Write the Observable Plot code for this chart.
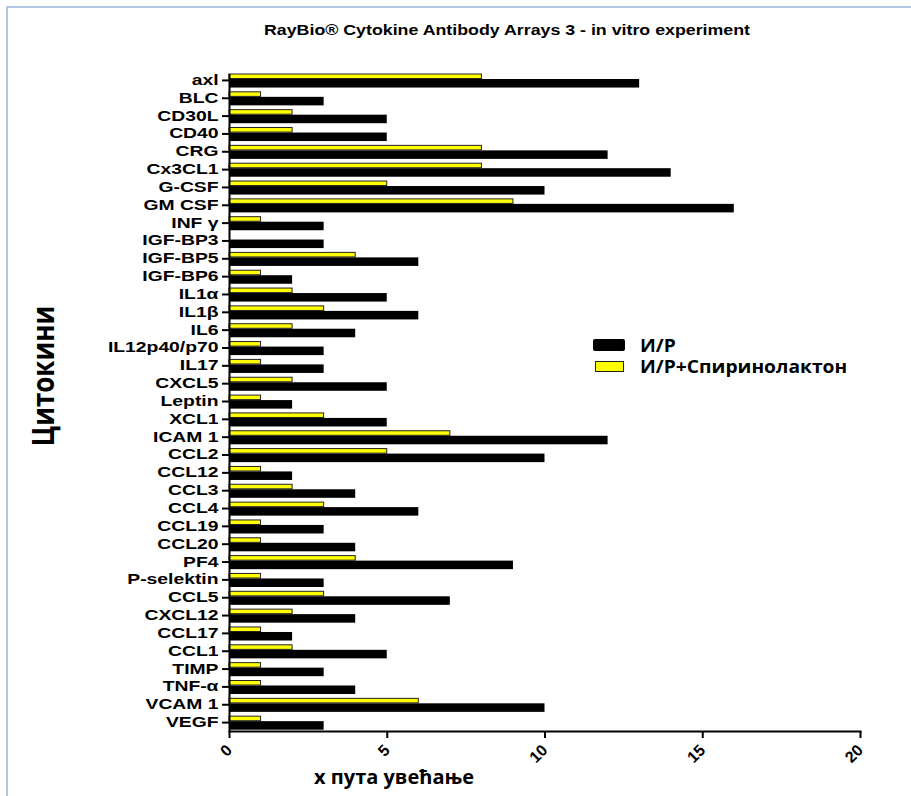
<!DOCTYPE html>
<html>
<head>
<meta charset="utf-8">
<script src="https://cdn.jsdelivr.net/npm/d3@7"></script>
<script src="https://cdn.jsdelivr.net/npm/@observablehq/plot@0.6"></script>
<style>
  html, body { margin: 0; padding: 0; background: #fff; }
  #wrap { position: relative; width: 911px; height: 796px; overflow: hidden; }
  .t { position: absolute; white-space: nowrap; color: #000; transform-origin: 0 50%; }
  #border { position: absolute; left: 6px; top: 6px; width: 920px; height: 820px; border-left: 2px solid #b3c6e4; border-top: 2px solid #b3c6e4; }
  .sw { position: absolute; box-sizing: border-box; }
  svg text { fill: #000; }
  g[aria-label="y-axis tick label"], g[aria-label="y-axis tick label"] text { font-size: 14px; font-weight: bold; font-family: 'Liberation Sans', Arial, sans-serif; }
</style>
</head>
<body>
<div id="wrap">
  <div id="border"></div>
  <div id="chart"></div>
</div>
<script>
const title = "RayBio® Cytokine Antibody Arrays 3 - in vitro experiment";
const yTitle = "Цитокини";
const xTitle = "x пута увећање";
const seriesNames = ["И/Р", "И/Р+Спиринолактон"];
const xTicks = [0, 5, 10, 15, 20];

const categories = ["axl","BLC","CD30L","CD40","CRG","Cx3CL1","G-CSF","GM CSF","INF γ","IGF-BP3","IGF-BP5","IGF-BP6","IL1α","IL1β","IL6","IL12p40/p70","IL17","CXCL5","Leptin","XCL1","ICAM 1","CCL2","CCL12","CCL3","CCL4","CCL19","CCL20","PF4","P-selektin","CCL5","CXCL12","CCL17","CCL1","TIMP","TNF-α","VCAM 1","VEGF"];
const irValues =     [13,3,5,5,12,14,10,16,3,3,6,2,5,6,4,3,3,5,2,5,12,10,2,4,6,3,4,9,3,7,4,2,5,3,4,10,3];
const irSpirValues = [8,1,2,2,8,8,5,9,1,0,4,1,2,3,2,1,1,2,1,3,7,5,1,2,3,1,1,4,1,3,2,1,2,1,1,6,1];

const irData = categories.map((c, i) => ({cat: c, value: irValues[i], series: seriesNames[0]}));
const spData = categories.map((c, i) => ({cat: c, value: irSpirValues[i], series: seriesNames[1]})).filter(d => d.value > 0);

const plot = Plot.plot({
  width: 911,
  height: 796,
  marginLeft: 229,
  marginRight: 51,
  marginTop: 71,
  marginBottom: 65,
  style: {fontFamily: "'Liberation Sans', Arial, sans-serif", color: "#000", background: "transparent"},
  x: {domain: [0, 20]},
  y: {domain: categories, padding: 0},
  marks: [
    Plot.barX(spData, {x: "value", y: "cat", fill: "#ffff00", stroke: "#222", strokeWidth: 1, insetTop: 3, insetBottom: 10.3}),
    Plot.barX(irData, {x: "value", y: "cat", fill: "#000", insetTop: 8, insetBottom: 1.3}),
    Plot.ruleX([0], {stroke: "#000", strokeWidth: 2, insetTop: 3}),
    Plot.frame({anchor: "bottom", stroke: "#000", strokeWidth: 2}),
    Plot.axisY({tickSize: 7, tickPadding: 4, label: null, strokeWidth: 2}),
    Plot.axisX({ticks: xTicks, tickSize: 7, tickPadding: 9, tickRotate: -45, label: null, strokeWidth: 2})
  ]
});
document.getElementById("chart").appendChild(plot);

// widen the category labels horizontally about their right-hand anchor, as in the reference
d3.select(plot).selectAll('g[aria-label="y-axis tick label"] text').each(function() {
  const x = parseFloat(this.getAttribute("x")) || 0;
  const t = this.getAttribute("transform") || "";
  this.setAttribute("transform", `${t} translate(${x},0) scale(1.38,1) translate(${-x},0)`);
});
// larger bold numbers on the value axis
d3.select(plot).selectAll('g[aria-label="x-axis tick label"] text')
  .style("font-size", "16px")
  .style("font-weight", "bold")
  .style("font-family", "'Liberation Sans', Arial, sans-serif");

const wrap = document.getElementById("wrap");
function addText(txt, x, y, css, transform) {
  const d = document.createElement("div");
  d.className = "t";
  d.textContent = txt;
  d.style.left = x + "px";
  d.style.top = y + "px";
  Object.assign(d.style, css);
  d.style.transform = transform;
  wrap.appendChild(d);
  return d;
}
addText(title, 507, 30, {fontFamily: "'Liberation Sans', Arial, sans-serif", fontWeight: "bold", fontSize: "14px", transformOrigin: "50% 50%"}, "translate(-50%, -50%) scaleX(1.27)");
addText(xTitle, 394, 776, {fontFamily: "'Open Sans', sans-serif", fontWeight: "bold", fontSize: "20px", transformOrigin: "50% 50%"}, "translate(-50%, -50%)");
addText(yTitle, 42, 376, {fontFamily: "'Open Sans', sans-serif", fontWeight: "bold", fontSize: "26px", transformOrigin: "50% 50%"}, "translate(-50%, -50%) rotate(-90deg) scaleY(1.15)");

// legend
const sw1 = document.createElement("div");
sw1.className = "sw";
Object.assign(sw1.style, {left: "593px", top: "339px", width: "32px", height: "12px", background: "#000", borderRadius: "2px"});
wrap.appendChild(sw1);
const sw2 = document.createElement("div");
sw2.className = "sw";
Object.assign(sw2.style, {left: "595px", top: "361px", width: "29px", height: "11px", background: "#ffff00", border: "1.5px solid #222"});
wrap.appendChild(sw2);
addText(seriesNames[0], 640, 345, {fontFamily: "'Open Sans', sans-serif", fontWeight: "bold", fontSize: "17px", transformOrigin: "0 50%"}, "translate(0, -50%) scaleX(1.13)");
addText(seriesNames[1], 640, 366, {fontFamily: "'Open Sans', sans-serif", fontWeight: "bold", fontSize: "17px", transformOrigin: "0 50%"}, "translate(0, -50%) scaleX(1.13)");
</script>
</body>
</html>
